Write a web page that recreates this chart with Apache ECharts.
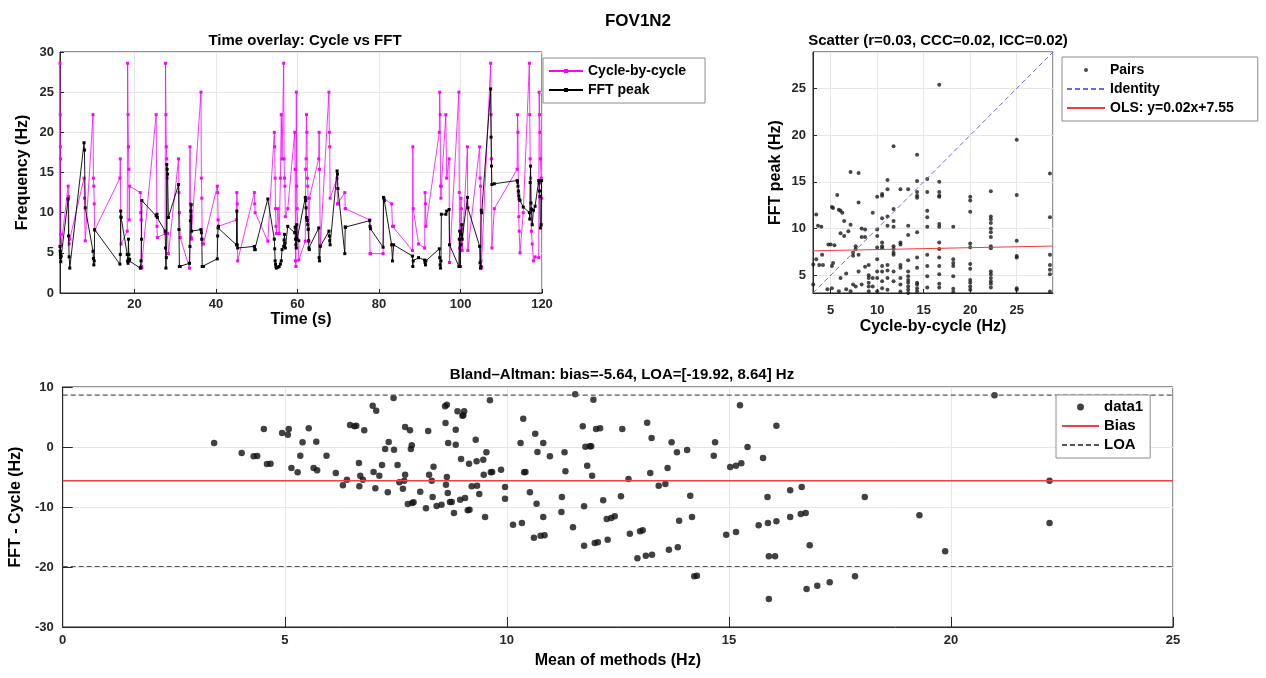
<!DOCTYPE html>
<html>
<head>
<meta charset="utf-8">
<script src="https://cdn.jsdelivr.net/npm/echarts@6/dist/echarts.min.js"></script>
<style>html,body{margin:0;padding:0;background:#fff}#chart{width:1266px;height:678px}</style>
</head>
<body>
<div id="chart"></div>
<script>
// ---------- Time overlay data ----------
const timeS = [
1.7,1.75,1.8,1.85,1.9,2.0,
3.7,3.8,3.95,4.1,
7.6,7.7,7.9,
9.8,9.9,10.0,10.1,10.2,
16.4,16.5,16.6,16.7,
18.2,18.3,18.4,18.5,18.6,18.7,18.8,
21.4,21.5,21.6,21.7,21.8,
25.3,25.5,25.6,
27.5,27.6,27.7,27.8,27.9,28.0,28.1,28.3,
30.8,30.9,31.0,31.2,
33.5,33.6,33.7,33.8,33.9,34.0,
36.3,36.4,36.5,36.6,36.9,
40.3,40.4,40.5,40.6,
45.0,45.1,45.2,45.3,
49.4,49.5,49.6,
52.7,
54.3,54.4,54.5,54.6,54.7,54.8,
55.2,55.5,55.8,56.0,56.2,
56.6,56.7,56.8,56.9,57.0,
57.6,
59.3,59.4,59.5,59.6,59.7,59.8,59.9,
60.3,
61.9,62.0,62.1,62.2,62.3,62.4,62.5,62.6,62.7,62.8,62.9,
65.2,65.3,65.4,65.6,
67.7,67.8,67.9,68.0,
69.7,69.8,69.9,
71.6,71.7,71.8,
77.7,77.8,77.9,
81.0,81.1,81.3,
83.1,83.3,83.6,
88.2,88.3,88.4,
89.7,
91.2,91.3,91.4,91.5,
94.8,94.9,95.0,95.1,95.2,95.3,
96.4,96.6,
97.2,97.3,
99.6,99.7,99.8,99.9,
100.1,100.2,100.3,100.4,
101.7,101.8,
104.7,104.8,104.9,105.0,105.1,105.2,
107.4,107.5,107.6,107.7,108.3,
113.9,114.0,114.1,114.2,114.3,114.4,114.6,
115.4,
116.9,117.0,117.1,117.2,117.3,117.4,117.6,117.9,118.3,
119.2,119.3,119.4,119.5,119.6,119.8,119.9
];
const cycleHz = [
28.6,22.2,18.2,16.7,7.3,6.0,
13.3,12.0,6.1,6.7,
14.3,11.8,6.5,
22.2,14.3,13.3,11.1,7.8,
14.3,16.7,9.5,6.1,
7.7,28.6,22.2,18.2,15.4,9.1,13.3,
12.5,10.0,9.1,3.3,3.1,
22.2,8.3,6.9,
7.4,28.6,22.2,18.2,16.7,14.3,7.4,4.9,
16.7,12.5,10.0,6.9,
3.1,18.2,11.1,9.5,6.9,6.7,
25.0,14.3,11.8,6.7,6.1,
13.3,12.5,9.1,8.3,
9.1,12.5,11.1,4.0,
12.5,11.1,10.0,
6.45,
20.0,18.2,14.3,10.5,8.3,7.4,
10.5,7.4,14.3,22.2,16.7,
28.6,16.7,14.3,13.3,9.5,
10.5,
20.0,15.4,4.0,3.3,25.0,13.3,10.5,
4.1,
6.45,15.4,16.7,22.2,20.0,14.3,13.3,11.8,8.0,6.45,11.8,
16.7,20.0,15.4,5.9,
25.0,20.0,18.2,11.8,
14.3,11.1,11.1,
12.5,10.5,10.5,
9.1,4.9,4.9,
4.9,11.8,11.8,
11.1,8.3,8.3,
5.3,18.2,10.5,
6.1,
5.6,12.5,11.1,8.3,
20.0,25.0,22.2,13.3,11.8,13.3,
22.2,14.3,
16.7,3.8,
25.0,12.5,5.6,3.3,
11.8,10.5,8.0,5.3,
18.2,5.3,
18.2,14.3,13.3,4.0,3.1,3.2,
28.6,22.2,16.7,5.6,10.5,
15.4,22.2,20.0,12.5,9.5,7.7,5.0,
10.0,
28.6,22.2,16.7,14.3,10.5,7.7,6.1,4.0,4.5,
4.4,25.0,22.2,20.0,16.7,14.3,11.8
];
const fftHz = [
5.8,5.2,4.8,4.4,3.9,4.6,
11.7,7.1,4.5,3.1,
18.7,17.8,10.6,
5.2,4.3,3.5,4.0,7.9,
3.6,4.8,10.2,9.4,
4.8,4.0,3.7,6.7,4.8,4.0,4.2,
3.1,3.2,4.0,6.7,11.5,
9.6,9.8,9.4,
7.7,5.6,3.1,4.4,16.0,15.4,14.8,9.4,
13.5,7.9,3.3,3.3,
3.7,5.8,9.0,10.2,11.0,7.7,
7.9,7.5,6.7,3.3,3.3,
4.25,7.1,8.1,8.3,
6.0,10.2,6.0,5.6,
5.8,5.4,5.4,
11.7,
6.7,5.5,4.0,3.6,3.3,3.1,
3.2,3.3,3.6,4.0,5.4,
5.8,6.6,7.3,6.2,5.6,
8.3,
7.5,8.2,6.7,6.0,5.6,8.5,6.7,
6.5,
11.9,11.5,10.6,9.4,9.2,9.0,8.5,7.9,6.5,5.6,5.4,
8.1,4.4,4.0,5.8,
7.7,7.1,6.5,6.0,
15.2,14.8,13.0,
4.9,8.2,8.2,
9.0,8.3,8.0,
5.7,11.9,11.5,
6.0,4.0,6.0,
4.6,3.3,4.0,
4.4,
4.1,3.8,3.5,4.0,
5.5,4.4,3.5,3.1,4.0,9.8,
9.8,10.2,
10.4,6.0,
3.3,6.7,7.7,3.3,
6.0,7.3,8.5,6.7,
11.9,10.6,
5.8,3.75,3.1,3.3,10.3,10.0,
25.4,19.4,15.8,13.5,13.6,
14.0,13.8,13.3,12.7,12.1,11.7,11.5,
10.7,
10.0,9.2,13.75,15.8,11.2,10.4,8.5,10.3,10.8,
14.0,13.7,12.7,12.0,8.1,8.5,14.0
];

// ---------- Scatter data (cycle-by-cycle vs FFT peak) ----------
const pairsCycle = [
3.13,3.13,3.45,3.64,4.0,3.45,3.77,4.08,4.17,4.76,5.0,5.13,5.26,5.13,5.26,5.41,4.65,5.13,
5.71,5.88,6.06,6.25,6.06,6.45,6.45,6.9,6.06,5.88,6.67,6.67,
7.14,8.0,7.14,7.41,7.41,7.69,7.69,8.0,7.41,7.69,7.14,8.0,8.0,
8.33,8.33,8.7,8.7,8.33,8.7,
9.09,9.09,9.09,9.09,9.09,9.09,9.52,9.52,9.52,
10,10,10,10,10,10,10,10,
10.53,10.53,10.53,10.53,10.53,10.53,10.53,10.53,10.53,10.53,
11.11,11.11,11.11,11.11,11.11,11.11,11.11,11.11,
11.76,11.76,11.76,11.76,11.76,11.76,11.76,11.76,11.76,11.76,
12.5,12.5,12.5,12.5,12.5,12.5,12.5,12.5,
13.33,13.33,13.33,13.33,13.33,13.33,13.33,13.33,13.33,13.33,13.33,
14.29,14.29,14.29,14.29,14.29,14.29,14.29,14.29,14.29,14.29,14.29,14.29,
15.38,15.38,15.38,15.38,15.38,15.38,15.38,15.38,15.38,
16.67,16.67,16.67,16.67,16.67,16.67,16.67,16.67,16.67,16.67,16.67,16.67,16.67,16.67,
18.18,18.18,18.18,18.18,18.18,18.18,18.18,
20,20,20,20,20,20,20,20,20,20,20,
22.22,22.22,22.22,22.22,22.22,22.22,22.22,22.22,22.22,22.22,22.22,22.22,22.22,22.22,22.22,
25,25,25,25,25,25,25,
28.57,28.57,28.57,28.57,28.57,28.57,28.57
];
const pairsFFT = [
6.15,4.0,11.5,10.3,10.2,6.7,6.1,7.2,6.1,8.3,8.3,12.3,12.2,6.0,6.3,8.2,3.5,3.6,
13.6,12.0,11.9,11.7,9.5,9.2,10.8,9.7,4.7,3.3,5.2,3.5,
16.06,15.95,10.4,7.4,7.1,8.1,7.8,7.2,4.0,3.8,3.3,12.8,5.4,
10.0,9.1,9.1,9.9,4.0,5.9,
6.1,5.0,4.7,4.2,3.8,3.3,11.7,4.7,3.8,
13.4,9.2,9.9,7.96,6.7,5.4,4.7,3.3,
13.5,13.7,11.1,8.5,8.1,7.9,6.0,5.4,4.35,3.6,
15.2,14.2,11.3,10.3,6.1,5.5,4.7,3.45,
18.8,12.1,10.8,10.2,8.1,7.8,7.4,7.2,5.4,4.35,
14.2,8.5,8.3,6.1,5.8,4.7,4.0,3.27,
14.2,10.3,9.3,6.6,5.4,4.9,4.5,4.2,3.8,3.45,3.1,
17.9,15.1,13.9,13.5,13.3,9.6,6.9,5.8,4.2,4.0,3.6,3.3,
15.3,13.9,11.9,11.2,10.2,7.2,6.0,4.9,3.7,
25.4,15.0,13.9,13.5,13.4,10.5,10.2,8.5,7.8,6.9,6.0,5.1,4.1,3.7,
10.2,6.7,6.3,6.0,4.9,3.55,3.2,
13.4,13.0,11.8,8.4,8.0,6.2,5.7,4.5,4.2,3.8,3.45,
14.0,11.3,11.0,10.6,10.0,9.6,9.1,8.1,7.9,5.4,5.1,4.7,4.35,4.1,3.7,
19.5,13.6,8.7,7.05,6.9,3.6,3.45,
15.9,11.2,7.2,6.1,5.6,5.1,3.27
];
const scatterLimits = [3.1, 28.9];
const olsSlope = 0.02;
const olsIntercept = 7.55;

// ---------- Bland-Altman data ----------
const baMean = [
3.41,4.03,4.30,4.38,4.53,4.60,4.68,4.94,5.07,5.09,5.15,5.29,5.35,5.40,5.54,5.65,5.71,5.73,5.94,
6.15,6.31,6.40,6.47,6.57,6.61,6.67,6.68,6.70,6.76,6.79,6.98,7.00,7.04,7.06,7.13,7.19,7.26,7.32,
7.34,7.45,7.46,7.54,7.58,7.66,7.69,7.71,7.71,7.77,7.82,7.84,7.86,7.87,7.90,8.05,8.18,8.23,8.25,
8.31,8.33,8.35,8.42,
8.53,8.61,8.62,8.65,8.63,8.65,8.67,8.68,8.72,8.76,8.81,8.85,8.85,8.89,8.97,9.00,9.02,9.04,8.95,
9.06,9.12,9.15,9.16,9.21,9.30,9.32,9.33,9.38,9.47,9.48,9.51,9.54,9.62,9.64,9.67,9.87,9.96,9.96,
10.14,10.31,10.34,10.37,10.39,10.42,10.52,10.61,10.64,10.67,10.69,10.76,10.82,10.85,10.82,10.97,
11.23,11.24,11.30,11.32,11.49,11.54,11.71,11.74,11.74,11.77,11.81,11.87,11.90,11.92,11.95,11.98,
12.01,12.05,12.10,12.17,12.25,12.27,12.35,12.43,12.57,12.60,12.74,12.77,12.94,13.00,13.06,13.13,
13.16,13.23,13.26,13.27,13.42,13.57,13.62,13.65,13.71,13.83,13.85,13.88,14.06,14.13,14.17,14.22,
14.28,14.66,14.69,14.94,15.03,15.16,15.16,15.25,15.28,15.42,15.67,15.77,15.87,15.88,15.90,15.90,
16.04,16.07,16.07,16.38,16.38,16.62,16.64,16.73,16.75,16.82,16.99,17.27,
17.84,18.06,19.29,19.87,20.98,22.22,22.22
];
const baDiff = [
0.67,-1.0,-1.56,-1.5,3.0,-2.83,-2.78,2.33,2.06,3.0,-3.5,-4.22,-1.44,0.78,3.11,-3.5,0.89,-3.89,-1.44,
-4.33,-6.39,-5.44,3.67,3.44,3.56,-2.67,-6.56,-4.78,-5.44,2.78,6.89,-4.17,-6.89,6.06,-4.78,-3.0,-0.33,-7.56,
0.83,8.17,-0.44,-3.0,-5.89,-6.94,-5.61,3.33,-4.61,-9.5,2.78,-0.33,0.28,-9.33,-9.22,-7.44,-10.22,2.67,-4.61,
-5.61,-8.33,-3.28,-9.83,
-9.61,6.78,4.0,7.06,-6.28,-5.0,-7.67,0.67,-9.17,-9.17,-11.0,2.89,0.39,5.94,-2.0,5.22,5.28,5.94,-8.78,
-8.5,-10.56,-2.78,-10.44,-6.56,1.22,-2.39,-6.44,-7.83,-2.11,-4.61,-11.67,-0.89,7.78,-4.22,-4.17,-3.78,-6.67,-8.61,
-12.94,0.67,-12.67,4.72,-4.22,-4.17,-7.56,-15.11,2.22,-9.44,-0.83,-14.78,-11.67,-14.72,0.67,-1.56,
-10.83,-8.33,-0.89,-4.06,-13.39,8.78,3.44,-9.89,-16.44,0.06,-3.11,0.11,0.11,-4.78,7.89,-16.0,
3.0,-15.89,3.11,-8.89,-12.0,-15.44,-11.83,-11.56,-8.22,3.0,-5.33,-14.44,-18.56,-14.06,-13.89,-18.11,
4.06,-4.33,1.5,-17.94,-6.44,-6.17,-3.5,-17.11,0.78,-0.89,-16.72,-12.28,-0.5,-8.11,-11.67,-21.56,
-21.44,-1.44,0.78,-14.61,-3.33,-3.11,-14.17,6.94,-2.72,0.0,-13.06,-1.83,-8.33,-12.67,-25.33,-18.22,
-18.22,-12.39,3.56,-7.22,-11.67,-11.17,-6.67,-11.0,-23.67,-16.39,-23.11,-22.56,
-21.56,-8.33,-11.39,-17.39,8.61,-5.61,-12.67
];
const biasValue = -5.64;
const loaValues = [-19.92, 8.64];
const baXRange = [0, 25];

// ---------- Texts ----------
const mainTitle = 'FOV1N2';
const titleTime = 'Time overlay: Cycle vs FFT';
const titleScatter = 'Scatter (r=0.03, CCC=0.02, ICC=0.02)';
const titleBA = 'Bland\u2013Altman: bias=-5.64, LOA=[-19.92, 8.64] Hz';
const olsName = 'OLS: y=' + olsSlope + 'x+' + olsIntercept;

const FONT = "'Liberation Sans', Arial, Helvetica, sans-serif";
const AX = '#262626';

function zip(a, b) { const n = Math.min(a.length, b.length); const r = []; for (let i = 0; i < n; i++) r.push([a[i], b[i]]); return r; }

function axisBase(tickLen, labelMargin) {
  return {
    axisLine: { show: true, onZero: false, lineStyle: { color: AX, width: 1 } },
    axisTick: { show: true, inside: true, length: tickLen, lineStyle: { color: AX } },
    axisLabel: { color: AX, fontSize: 13, fontWeight: 'bold', fontFamily: FONT, margin: labelMargin, showMinLabel: false, showMaxLabel: true },
    splitLine: { show: true, lineStyle: { color: '#e6e6e6', width: 1 } },
    nameLocation: 'middle',
    nameTextStyle: { fontSize: 16, fontWeight: 'bold', color: '#000', fontFamily: FONT }
  };
}
function merge(a, b) { return Object.assign({}, a, b); }

const chart = echarts.init(document.getElementById('chart'), null, { renderer: 'canvas' });

const legendText = { fontSize: 14, fontWeight: 'bold', color: '#000', fontFamily: FONT, lineHeight: 16 };
const hideSym = { opacity: 0 };

const option = {
  backgroundColor: '#fff',
  animation: false,
  textStyle: { fontFamily: FONT },
  title: [
    { text: mainTitle, left: 633, top: 8, textAlign: 'center', textStyle: { fontSize: 17, fontWeight: 'bold', color: '#000', fontFamily: FONT } },
    { text: titleTime, left: 300, top: 28, textAlign: 'center', textStyle: { fontSize: 15, fontWeight: 'bold', color: '#000', fontFamily: FONT } },
    { text: titleScatter, left: 933, top: 28, textAlign: 'center', textStyle: { fontSize: 15, fontWeight: 'bold', color: '#000', fontFamily: FONT } },
    { text: titleBA, left: 617, top: 362, textAlign: 'center', textStyle: { fontSize: 15, fontWeight: 'bold', color: '#000', fontFamily: FONT } }
  ],
  grid: [
    { left: 60, top: 52, width: 482, height: 241, show: true, borderColor: AX, borderWidth: 1 },
    { left: 813, top: 52, width: 240, height: 241, show: true, borderColor: AX, borderWidth: 1 },
    { left: 60, top: 387, width: 1113, height: 240, show: true, borderColor: AX, borderWidth: 1 }
  ],
  xAxis: [
    merge(axisBase(4, 5), { gridIndex: 0, type: 'value', min: timeS[0], max: 120, splitNumber: 6, name: 'Time (s)', nameGap: 16 }),
    merge(axisBase(4, 11), { gridIndex: 1, type: 'value', min: scatterLimits[0], max: scatterLimits[1], splitNumber: 5, name: 'Cycle-by-cycle (Hz)', nameGap: 26,
      axisLabel: merge(axisBase(4, 11).axisLabel, { showMaxLabel: false }) }),
    merge(axisBase(10, 7), { gridIndex: 2, type: 'value', min: baXRange[0], max: baXRange[1], interval: 5, name: 'Mean of methods (Hz)', nameGap: 26,
      axisLabel: merge(axisBase(10, 7).axisLabel, { showMinLabel: true }) })
  ],
  yAxis: [
    merge(axisBase(4, 6), { gridIndex: 0, type: 'value', min: 0, max: 30, interval: 5, name: 'Frequency (Hz)', nameGap: 29,
      axisLabel: merge(axisBase(4, 6).axisLabel, { showMinLabel: true }) }),
    merge(axisBase(4, 7), { gridIndex: 1, type: 'value', min: scatterLimits[0], max: scatterLimits[1], splitNumber: 5, name: 'FFT peak (Hz)', nameGap: 29,
      axisLabel: merge(axisBase(4, 7).axisLabel, { showMaxLabel: false }) }),
    merge(axisBase(10, 9), { gridIndex: 2, type: 'value', min: -30, max: 10, interval: 10, name: 'FFT - Cycle (Hz)', nameGap: 29,
      axisLabel: merge(axisBase(10, 9).axisLabel, { showMinLabel: true }) })
  ],
  legend: [
    { show: true, orient: 'vertical', left: 543, top: 58, padding: [5, 19, 5, 5], itemGap: 3, itemWidth: 34, itemHeight: 5,
      borderColor: '#8c8c8c', borderWidth: 1, backgroundColor: '#fff', textStyle: legendText,
      itemStyle: { borderWidth: 0 },
      data: ['Cycle-by-cycle', 'FFT peak'] },
    { show: true, orient: 'vertical', left: 1062, top: 57, padding: [5, 24, 5, 4], itemGap: 3, itemWidth: 38, itemHeight: 4,
      borderColor: '#8c8c8c', borderWidth: 1, backgroundColor: '#fff', textStyle: legendText,
      itemStyle: { borderWidth: 0 },
      data: [{ name: 'Pairs' }, { name: 'Identity', itemStyle: hideSym }, { name: olsName, itemStyle: hideSym }] },
    { show: true, orient: 'vertical', left: 1056, top: 395, padding: [4, 7, 5, 5], itemGap: 3, itemWidth: 37, itemHeight: 7,
      borderColor: '#8c8c8c', borderWidth: 1, backgroundColor: '#fff', textStyle: merge(legendText, { fontSize: 15 }),
      itemStyle: { borderWidth: 0 },
      data: [{ name: 'data1' }, { name: 'Bias', itemStyle: hideSym }, { name: 'LOA', itemStyle: hideSym }] }
  ],
  series: [
    { name: 'Cycle-by-cycle', type: 'line', xAxisIndex: 0, yAxisIndex: 0, data: zip(timeS, cycleHz),
      color: '#ff00ff', lineStyle: { width: 0.8, color: '#ff00ff' }, itemStyle: { color: '#ff00ff' },
      symbol: 'rect', symbolSize: 3, showSymbol: true, showAllSymbol: true, z: 2 },
    { name: 'FFT peak', type: 'line', xAxisIndex: 0, yAxisIndex: 0, data: zip(timeS, fftHz),
      color: '#000', lineStyle: { width: 0.9, color: '#000' }, itemStyle: { color: '#000' },
      symbol: 'rect', symbolSize: 3, showSymbol: true, showAllSymbol: true, z: 3 },
    { name: 'Pairs', type: 'scatter', xAxisIndex: 1, yAxisIndex: 1, data: zip(pairsCycle, pairsFFT),
      symbol: 'circle', symbolSize: 4, itemStyle: { color: '#1a1a1a' }, z: 2 },
    { name: 'Identity', type: 'line', xAxisIndex: 1, yAxisIndex: 1, data: [[scatterLimits[0], scatterLimits[0]], [scatterLimits[1], scatterLimits[1]]],
      symbol: 'none', color: '#6a6ae0', lineStyle: { color: '#6a6ae0', width: 1, type: [5, 3] }, z: 3 },
    { name: olsName, type: 'line', xAxisIndex: 1, yAxisIndex: 1,
      data: [[scatterLimits[0], olsSlope * scatterLimits[0] + olsIntercept], [scatterLimits[1], olsSlope * scatterLimits[1] + olsIntercept]],
      symbol: 'none', color: '#f03c3c', lineStyle: { color: '#f03c3c', width: 1 }, z: 3 },
    { name: 'data1', type: 'scatter', xAxisIndex: 2, yAxisIndex: 2, data: zip(baMean, baDiff),
      symbol: 'circle', symbolSize: 6.5, itemStyle: { color: '#111' }, z: 2 },
    { name: 'Bias', type: 'line', xAxisIndex: 2, yAxisIndex: 2, data: [[baXRange[0], biasValue], [baXRange[1], biasValue]],
      symbol: 'none', color: '#f04040', lineStyle: { color: '#f04040', width: 1.5 }, z: 3 },
    { name: 'LOA', type: 'line', xAxisIndex: 2, yAxisIndex: 2, data: [[baXRange[0], loaValues[1]], [baXRange[1], loaValues[1]]],
      symbol: 'none', color: '#555', lineStyle: { color: '#555', width: 1.2, type: [5, 3] }, z: 3 },
    { name: 'LOA', type: 'line', xAxisIndex: 2, yAxisIndex: 2, data: [[baXRange[0], loaValues[0]], [baXRange[1], loaValues[0]]],
      symbol: 'none', color: '#555', lineStyle: { color: '#555', width: 1.2, type: [5, 3] }, z: 3 }
  ]
};
chart.setOption(option);
</script>
</body>
</html>
